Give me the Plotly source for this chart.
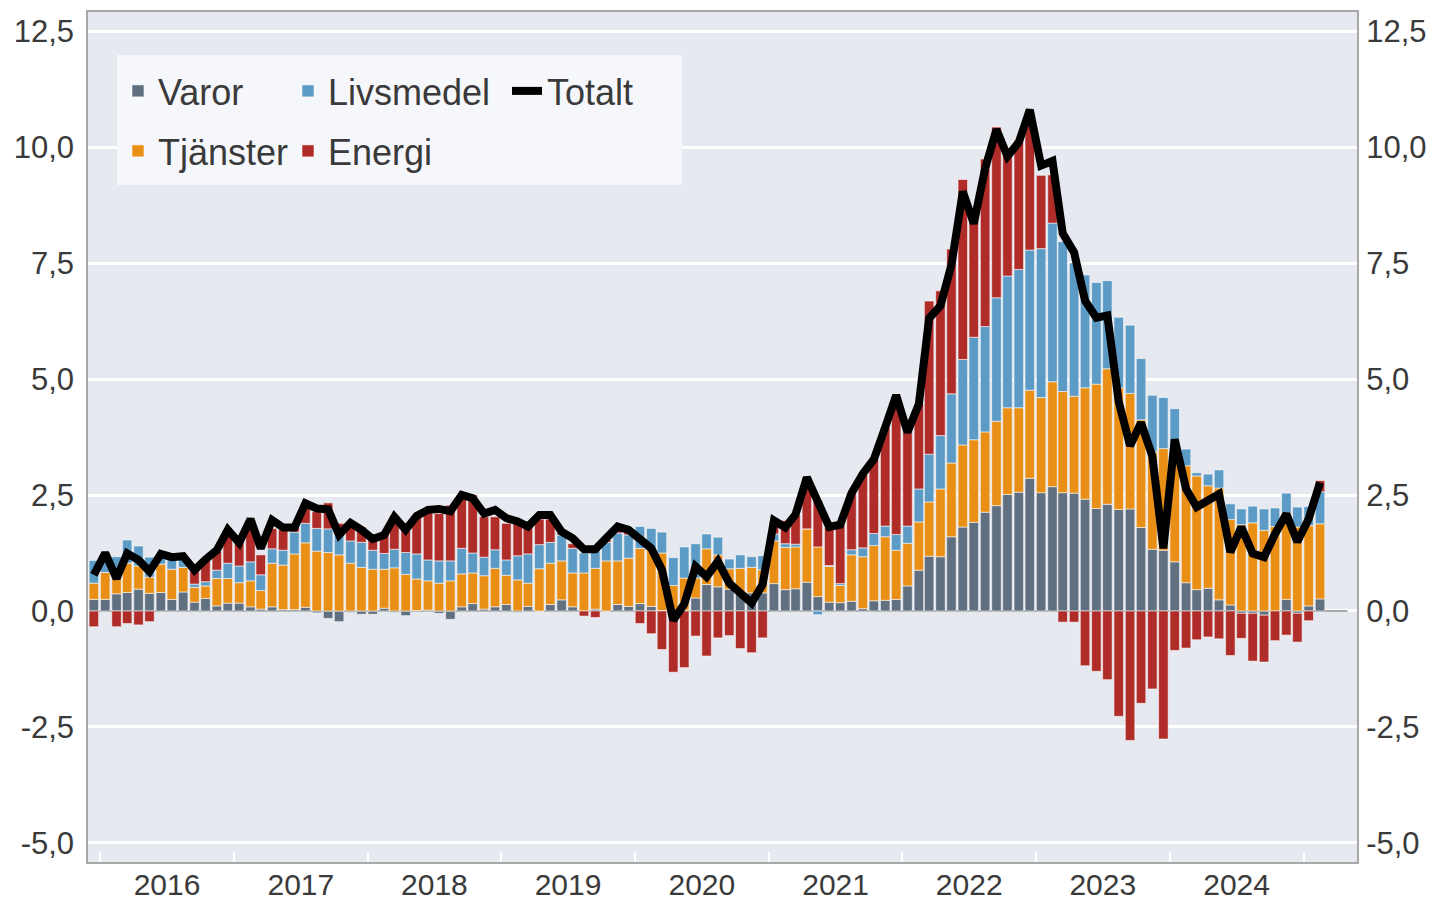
import plotly.graph_objects as go
import pandas as pd

# Monthly contributions (percentage points), Dec 2015 - Feb 2025
months = pd.date_range("2015-12-01", periods=111, freq="MS") + pd.Timedelta(days=14)

varor = [
    0.25,
    0.25, 0.37, 0.40, 0.47, 0.38, 0.40, 0.25, 0.41, 0.19, 0.27, 0.11, 0.17,
    0.17, 0.09, 0.04, 0.09, 0.03, 0.03, 0.08, -0.04, -0.16, -0.23, -0.03, -0.07,
    -0.07, 0.06, -0.03, -0.10, 0.01, 0.02, -0.05, -0.18, 0.09, 0.16, 0.04, 0.09,
    0.14, -0.03, 0.10, -0.01, 0.14, 0.24, 0.09, 0.00, 0.04, 0.00, 0.14, 0.10,
    0.16, 0.10, 0.01, 0.00, 0.02, 0.28, 0.57, 0.52, 0.47, 0.42, 0.39, 0.39,
    0.59, 0.46, 0.48, 0.62, 0.31, 0.19, 0.18, 0.21, 0.05, 0.22, 0.23, 0.25,
    0.54, 0.88, 1.18, 1.17, 1.60, 1.81, 1.91, 2.13, 2.27, 2.51, 2.56, 2.86,
    2.55, 2.68, 2.55, 2.54, 2.41, 2.21, 2.30, 2.19, 2.20, 1.80, 1.33, 1.31,
    1.06, 0.61, 0.46, 0.49, 0.24, 0.13, -0.05, -0.05, -0.09, 0.00, 0.25, -0.05,
    0.11, 0.26,
]
tjanster = [
    0.35,
    0.58, 0.35, 0.63, 0.50, 0.35, 0.61, 0.65, 0.53, 0.32, 0.27, 0.59, 0.53,
    0.44, 0.56, 0.40, 0.94, 0.96, 1.20, 1.39, 1.29, 1.26, 1.21, 1.03, 0.94,
    0.90, 0.84, 0.93, 0.79, 0.68, 0.63, 0.60, 0.65, 0.71, 0.66, 0.72, 0.83,
    0.63, 0.67, 0.50, 0.91, 0.89, 0.84, 0.73, 0.82, 0.88, 1.08, 0.94, 1.04,
    1.19, 1.22, 1.24, 0.55, 0.69, 0.43, 0.77, 0.69, 0.44, 0.50, 0.55, 0.50,
    0.92, 0.91, 0.90, 1.15, 1.07, 0.77, 0.37, 1.00, 1.12, 1.19, 1.37, 1.06,
    0.92, 1.04, 1.17, 1.46, 1.59, 1.77, 1.78, 1.73, 1.82, 1.87, 1.82, 1.90,
    2.05, 2.26, 2.18, 2.09, 2.40, 2.68, 2.92, 2.62, 2.49, 2.32, 2.10, 2.19,
    2.50, 2.52, 2.45, 2.21, 2.41, 1.84, 1.86, 1.90, 1.74, 1.82, 1.86, 1.81,
    1.73, 1.62,
]
livsmedel = [
    0.49,
    0.42, 0.45, 0.50, 0.43, 0.43, 0.20, 0.24, 0.20, 0.07, 0.09, 0.18, 0.33,
    0.36, 0.41, 0.34, 0.31, 0.32, 0.47, 0.42, 0.49, 0.51, 0.43, 0.48, 0.54,
    0.41, 0.34, 0.40, 0.47, 0.54, 0.45, 0.48, 0.43, 0.55, 0.43, 0.40, 0.40,
    0.33, 0.52, 0.63, 0.52, 0.45, 0.56, 0.53, 0.43, 0.50, 0.40, 0.60, 0.50,
    0.47, 0.46, 0.45, 0.60, 0.67, 0.74, 0.32, 0.38, 0.21, 0.29, 0.23, 0.30,
    0.15, 0.08, 0.06, 0.00, -0.08, 0.02, 0.04, 0.11, 0.19, 0.26, 0.23, 0.34,
    0.37, 0.71, 1.03, 1.15, 1.49, 1.84, 2.21, 2.27, 2.66, 2.84, 2.98, 3.02,
    3.21, 3.42, 3.23, 2.87, 2.43, 2.19, 1.90, 1.52, 1.47, 1.32, 1.22, 1.10,
    0.80, 0.36, 0.07, 0.25, 0.39, 0.34, 0.34, 0.36, 0.46, 0.40, 0.43, 0.43,
    0.41, 0.69,
]
energi = [
    -0.34,
    0.00, -0.34, -0.27, -0.30, -0.23, 0.02, 0.02, 0.02, 0.30, 0.47, 0.40, 0.60,
    0.52, 0.90, 0.43, 0.44, 0.44, 0.12, 0.43, 0.36, 0.56, 0.25, 0.38, 0.33,
    0.31, 0.40, 0.73, 0.59, 0.80, 1.08, 1.02, 1.20, 1.12, 1.25, 0.87, 0.71,
    0.79, 0.70, 0.63, 0.55, 0.50, 0.05, 0.10, -0.11, -0.14, 0.05, 0.14, 0.06,
    -0.27, -0.49, -0.83, -1.32, -1.22, -0.54, -0.97, -0.58, -0.53, -0.81, -0.90, -0.58,
    0.25, 0.50, 0.63, 1.11, 1.00, 0.83, 1.27, 1.22, 1.60, 1.60, 2.13, 2.85,
    2.02, 1.83, 3.30, 3.12, 3.12, 3.88, 2.70, 3.61, 3.68, 2.68, 2.79, 2.92,
    1.58, 1.04, -0.24, -0.24, -1.18, -1.30, -1.48, -2.27, -2.79, -1.99, -1.68, -2.76,
    -0.85, -0.80, -0.62, -0.56, -0.60, -0.96, -0.54, -1.03, -1.01, -0.64, -0.52, -0.62,
    -0.21, 0.24,
]
totalt = [
    0.78,
    1.25, 0.70, 1.24, 1.10, 0.85, 1.23, 1.16, 1.18, 0.88, 1.11, 1.31, 1.75,
    1.47, 1.98, 1.35, 1.96, 1.80, 1.80, 2.32, 2.21, 2.19, 1.64, 1.90, 1.75,
    1.55, 1.64, 2.03, 1.75, 2.05, 2.18, 2.20, 2.15, 2.50, 2.43, 2.10, 2.18,
    2.00, 1.93, 1.82, 2.07, 2.07, 1.71, 1.57, 1.33, 1.33, 1.57, 1.82, 1.75,
    1.57, 1.35, 0.89, -0.20, 0.15, 0.96, 0.74, 1.07, 0.60, 0.39, 0.17, 0.57,
    1.95, 1.80, 2.08, 2.88, 2.38, 1.81, 1.86, 2.54, 2.96, 3.27, 3.96, 4.65,
    3.85, 4.46, 6.31, 6.58, 7.46, 9.04, 8.35, 9.54, 10.38, 9.80, 10.10, 10.80,
    9.60, 9.70, 8.14, 7.73, 6.69, 6.32, 6.37, 4.51, 3.56, 4.06, 3.33, 1.35,
    3.70, 2.63, 2.24, 2.38, 2.52, 1.27, 1.81, 1.24, 1.16, 1.66, 2.09, 1.49,
    1.99, 2.77,
]

ytick_vals = [-5.0, -2.5, 0.0, 2.5, 5.0, 7.5, 10.0, 12.5]
ytick_text = ["-5,0", "-2,5", "0,0", "2,5", "5,0", "7,5", "10,0", "12,5"]

FONT = "Liberation Sans, Arial, sans-serif"
TEXT = "#3a3a3a"
BAR_W = 26 * 24 * 3600 * 1000  # bar width in ms

W, H = 1435, 899
# plot area in pixels (for placing the legend box / items)
L, R, T, B = 88, 1357, 12, 862


def px(x):
    return (x - L) / (R - L)


def py(y):
    return (B - y) / (B - T)


fig = go.Figure()

bars = [
    ("Varor", varor, "#617080", "legend"),
    ("Tjänster", tjanster, "#e98f16", "legend4"),
    ("Livsmedel", livsmedel, "#5b9bc5", "legend2"),
    ("Energi", energi, "#b02c29", "legend5"),
]
for name, vals, color, leg in bars:
    fig.add_trace(go.Bar(
        x=months, y=vals, name=name, width=BAR_W,
        marker=dict(color=color, line=dict(color="rgba(255,255,255,0.7)", width=0.8)),
        legend=leg,
    ))

fig.add_trace(go.Scatter(
    x=months, y=totalt, mode="lines", name="Totalt",
    line=dict(color="black", width=8),
    legend="legend3",
))

# invisible copy so the right-hand axis gets drawn
fig.add_trace(go.Scatter(
    x=months, y=totalt, yaxis="y2", mode="lines", opacity=0,
    showlegend=False, hoverinfo="skip",
))

# legend background box
fig.add_shape(type="rect", xref="paper", yref="paper",
              x0=px(117), x1=px(682), y0=py(185), y1=py(55),
              fillcolor="#f6f7fa", line_width=0, layer="above")

# zero line
fig.add_shape(type="line", xref="x", yref="y",
              x0="2015-12-08", x1="2025-05-01", y0=0, y1=0,
              line=dict(color="#8c8c8c", width=1.5), layer="between")

leg_font = dict(family=FONT, size=36, color=TEXT)


def leg(x, y):
    return dict(x=px(x), y=py(y), xanchor="left", yanchor="middle",
                orientation="h", bgcolor="rgba(0,0,0,0)", font=leg_font,
                itemwidth=30)


yax = dict(
    range=[-5.41, 12.91],
    tickvals=ytick_vals, ticktext=ytick_text,
    zeroline=False, automargin=False,
    ticks="outside", tickcolor="rgba(0,0,0,0)",
    tickfont=dict(size=31, color=TEXT),
)

fig.update_layout(
    width=W, height=H,
    margin=dict(l=L, r=W - R, t=T, b=H - B),
    paper_bgcolor="white",
    plot_bgcolor="#e6e9ef",
    barmode="relative",
    font=dict(family=FONT, size=30, color=TEXT),
    showlegend=True,
    legend=leg(118, 91),
    legend2=leg(288, 91),
    legend3=leg(507, 91),
    legend4=leg(118, 151),
    legend5=leg(288, 151),
    xaxis=dict(
        type="date",
        range=["2015-11-29", "2025-05-27"],
        dtick="M12", tick0="2016-01-01",
        ticklabelmode="period",
        tickformat="%Y",
        ticks="inside", ticklen=10, tickwidth=2, tickcolor="white",
        ticklabelstandoff=-5,
        showgrid=False, automargin=False,
        showline=True, linecolor="#a8a8a8", linewidth=1.5, mirror=True,
        tickfont=dict(size=30, color=TEXT),
    ),
    yaxis=dict(
        **yax, ticklen=6,
        showgrid=True, gridcolor="white", gridwidth=3,
        showline=True, linecolor="#a8a8a8", linewidth=1.5, mirror=True,
    ),
    yaxis2=dict(
        **yax, ticklen=2,
        overlaying="y", side="right", matches="y",
        showgrid=False,
    ),
)

# drop the default page margin so the figure sits at the window's corner
fig.write_html("out.html", config={"displayModeBar": False},
               post_script="document.body.style.margin='0';")
